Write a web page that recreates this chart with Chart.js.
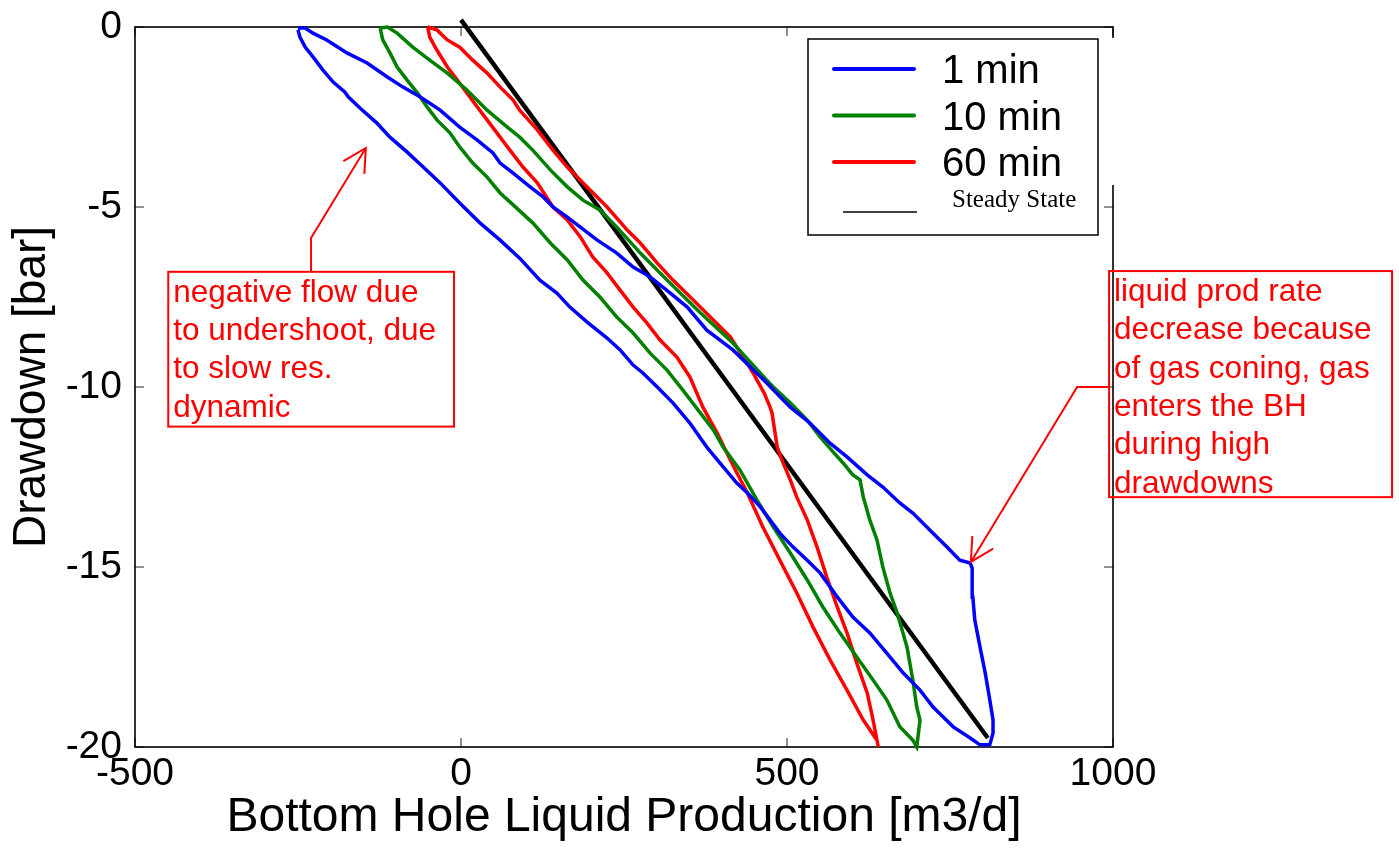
<!DOCTYPE html>
<html><head><meta charset="utf-8">
<script src="https://cdn.jsdelivr.net/npm/chart.js@4/dist/chart.umd.min.js"></script>
<style>html,body{margin:0;padding:0;background:#fff;overflow:hidden}</style>
</head><body>
<canvas id="c" width="1399" height="849"></canvas>
<script>
// ---- data: [bottom hole liquid production (m3/d), drawdown (bar)] ----
const seriesLabels = ['1 min', '10 min', '60 min', 'Steady State'];
const xTickValues = [-500, 0, 500, 1000];
const yTickValues = [-20, -15, -10, -5, 0];

const run1min = [
 [-250,-0.08],[-247,-0.28],[-239,-0.56],[-227,-0.83],[-212,-1.19],[-196,-1.53],[-178,-1.81],[-173,-1.94],
 [-155,-2.25],[-129,-2.67],[-109,-3.06],[-83,-3.47],[-58,-3.89],[-32,-4.33],[-2,-4.89],[29,-5.44],[60,-5.92],
 [90,-6.42],[121,-7.03],[147,-7.39],[167,-7.78],[193,-8.19],[224,-8.64],[244,-8.97],[264,-9.39],[279,-9.61],
 [301,-10.0],[325,-10.44],[351,-11.0],[377,-11.67],[397,-12.11],[423,-12.67],[439,-12.94],[459,-13.33],
 [474,-13.69],[489,-14.06],[509,-14.44],[531,-14.81],[551,-15.17],[577,-15.83],[601,-16.39],[627,-16.83],
 [653,-17.39],[678,-17.94],[704,-18.42],[724,-18.89],[755,-19.44],[781,-19.75],[796,-19.94],[811,-19.94],
 [816,-19.61],[816,-19.25],[811,-18.69],[804,-17.94],[796,-17.22],[788,-16.47],[785,-15.83],[784,-15.03],
 [781,-14.89],[765,-14.81],[745,-14.44],[724,-14.06],[693,-13.5],[673,-13.22],[647,-12.78],[623,-12.44],
 [592,-11.94],[566,-11.56],[535,-11.0],[505,-10.56],[479,-10.08],[469,-9.89],[417,-8.97],[377,-8.42],
 [347,-7.78],[321,-7.39],[290,-6.94],[264,-6.67],[239,-6.28],[209,-5.92],[183,-5.56],[163,-5.28],[141,-5.0],
 [126,-4.72],[106,-4.44],[80,-4.06],[60,-3.78],[49,-3.5],[25,-3.14],[-2,-2.78],[-32,-2.31],[-63,-1.94],
 [-89,-1.67],[-113,-1.39],[-144,-1.0],[-175,-0.72],[-206,-0.36],[-227,-0.17],[-239,-0.03],[-250,-0.03]
];
const run10min = [
 [-124,-0.03],[-120,-0.36],[-109,-0.72],[-98,-1.11],[-83,-1.47],[-67,-1.83],[-52,-2.22],[-37,-2.58],
 [-17,-2.94],[-2,-3.33],[18,-3.78],[40,-4.17],[60,-4.61],[80,-4.94],[110,-5.44],[137,-6.0],[163,-6.47],
 [187,-7.03],[213,-7.5],[239,-8.06],[264,-8.5],[290,-9.06],[316,-9.53],[340,-10.08],[367,-10.72],
 [387,-11.19],[402,-11.67],[428,-12.31],[454,-13.14],[479,-13.89],[505,-14.61],[531,-15.36],[555,-16.11],
 [581,-16.83],[607,-17.5],[632,-18.14],[653,-18.69],[673,-19.44],[693,-19.81],[699,-20.0],
 [704,-19.25],[699,-18.89],[693,-18.14],[684,-17.22],[669,-16.28],[658,-15.72],[647,-15.0],[638,-14.25],
 [627,-13.69],[617,-13.06],[612,-12.58],[601,-12.44],[586,-12.11],[571,-11.81],[551,-11.39],[531,-10.92],
 [505,-10.44],[479,-10.0],[469,-9.81],[417,-8.78],[367,-7.94],[316,-7.03],[275,-6.28],[239,-5.56],
 [213,-5.08],[187,-4.81],[163,-4.44],[137,-3.97],[110,-3.42],[90,-3.06],[71,-2.78],[40,-2.31],[9,-1.75],
 [-21,-1.28],[-48,-0.92],[-74,-0.56],[-98,-0.17],[-113,0],[-124,-0.03]
];
const run60min = [
 [-51,0],[-48,-0.28],[-37,-0.64],[-21,-1.11],[-6,-1.47],[9,-1.83],[25,-2.22],[40,-2.58],[55,-2.94],
 [75,-3.42],[95,-3.89],[117,-4.33],[141,-5.0],[163,-5.36],[183,-5.83],[202,-6.39],[224,-6.83],[244,-7.31],
 [264,-7.78],[285,-8.22],[305,-8.69],[331,-9.17],[351,-9.72],[371,-10.56],[393,-11.28],[413,-12.03],
 [439,-12.94],[463,-13.89],[489,-14.81],[515,-15.72],[540,-16.67],[566,-17.58],[592,-18.42],[617,-19.25],
 [638,-19.81],[640,-20.0],
 [632,-19.25],[623,-18.5],[607,-17.67],[592,-16.83],[577,-16.11],[561,-15.28],[546,-14.44],[531,-13.69],
 [515,-13.06],[505,-12.58],[494,-12.11],[485,-11.67],[477,-10.72],[474,-10.56],[465,-10.17],[454,-9.81],
 [448,-9.61],[433,-9.17],[413,-8.61],[387,-8.14],[356,-7.58],[325,-7.03],[301,-6.56],[275,-6.0],
 [255,-5.64],[224,-5.0],[193,-4.44],[163,-3.89],[141,-3.42],[117,-2.86],[90,-2.31],[80,-2.03],[60,-1.67],
 [40,-1.28],[18,-0.92],[-2,-0.56],[-21,-0.36],[-37,-0.08],[-51,0]
];
const steadyState = [[0,0.2],[808,-19.75]];

// ---- annotations (data coordinates) ----
const notes = [
 {lines:['negative flow due','to undershoot, due','to slow res.','dynamic'],
  box:[-449,-6.8,-10.7,-11.1], path:[[-230,-6.8],[-230,-5.86],[-146,-3.36]]},
 {lines:['liquid prod rate','decrease because','of gas coning, gas','enters the BH','during high','drawdowns'],
  box:[994,-6.78,1428,-13.06], path:[[994,-10],[945,-10],[782,-14.86]]}
];

const toPts = arr => arr.map(p => ({x:p[0], y:p[1]}));
const colors = ['#0000ff','#008000','#ff0000','#000000'];

function arrowHead(ctx, fx, fy, tx, ty, len, ang){
  const a = Math.atan2(fy-ty, fx-tx);
  ctx.beginPath();
  ctx.moveTo(tx + len*Math.cos(a+ang), ty + len*Math.sin(a+ang));
  ctx.lineTo(tx, ty);
  ctx.lineTo(tx + len*Math.cos(a-ang), ty + len*Math.sin(a-ang));
  ctx.stroke();
}

const framePlugin = {
  id:'frame',
  beforeDatasetsDraw(chart){
    const {ctx, chartArea:a, scales:{x, y}} = chart;
    ctx.save();
    ctx.strokeStyle = '#6e6e6e'; ctx.lineWidth = 1.5;
    const tl = 9;
    ctx.beginPath();
    xTickValues.forEach(v => { const p = x.getPixelForValue(v);
      ctx.moveTo(p, a.bottom); ctx.lineTo(p, a.bottom - tl);
      ctx.moveTo(p, a.top); ctx.lineTo(p, a.top + tl); });
    yTickValues.forEach(v => { const p = y.getPixelForValue(v);
      ctx.moveTo(a.left, p); ctx.lineTo(a.left + tl, p);
      ctx.moveTo(a.right, p); ctx.lineTo(a.right - tl, p); });
    ctx.stroke();
    ctx.strokeStyle = '#000'; ctx.lineWidth = 1.6;
    ctx.strokeRect(a.left, a.top, a.right - a.left, a.bottom - a.top);
    ctx.restore();
  },
  afterDraw(chart){
    const {ctx, chartArea:a, scales:{x, y}} = chart;
    ctx.save();
    // annotations
    ctx.strokeStyle = '#ff0000'; ctx.fillStyle = '#ff0000'; ctx.lineWidth = 2;
    ctx.font = '31.5px "Liberation Sans", Arial, sans-serif';
    ctx.textBaseline = 'alphabetic'; ctx.textAlign = 'left';
    notes.forEach(n => {
      const x0 = x.getPixelForValue(n.box[0]), y0 = y.getPixelForValue(n.box[1]);
      const x1 = x.getPixelForValue(n.box[2]), y1 = y.getPixelForValue(n.box[3]);
      ctx.strokeRect(x0, y0, x1 - x0, y1 - y0);
      n.lines.forEach((t, i) => ctx.fillText(t, x0 + 5, y0 + 30 + i * 38.3));
      const pts = n.path.map(p => [x.getPixelForValue(p[0]), y.getPixelForValue(p[1])]);
      ctx.beginPath(); ctx.moveTo(pts[0][0], pts[0][1]);
      pts.slice(1).forEach(p => ctx.lineTo(p[0], p[1])); ctx.stroke();
      const k = pts.length - 1;
      arrowHead(ctx, pts[k-1][0], pts[k-1][1], pts[k][0], pts[k][1], 26, 0.49);
    });
    // legend
    const lx = a.right - 305, ly = a.top + 12, lw = 290, lh = 196;
    ctx.fillStyle = '#fff';
    ctx.fillRect(lx + lw, ly - 1, 19, 147);
    ctx.fillRect(lx, ly, lw, lh);
    ctx.strokeStyle = '#000'; ctx.lineWidth = 1.5;
    ctx.strokeRect(lx, ly, lw, lh);
    ctx.lineCap = 'round';
    chart.data.datasets.forEach((ds, i) => {
      if (i < 3) {
        const yy = ly + 30 + i * 46.5;
        ctx.strokeStyle = ds.borderColor; ctx.lineWidth = 4;
        ctx.beginPath(); ctx.moveTo(lx + 26, yy); ctx.lineTo(lx + 106, yy); ctx.stroke();
        ctx.fillStyle = '#000'; ctx.font = '40px "Liberation Sans", Arial, sans-serif';
        ctx.fillText(ds.label, lx + 134, yy + 14);
      } else {
        const yy = ly + 173;
        ctx.strokeStyle = '#000'; ctx.lineWidth = 1.6; ctx.lineCap = 'butt';
        ctx.beginPath(); ctx.moveTo(lx + 35, yy); ctx.lineTo(lx + 109, yy); ctx.stroke();
        ctx.fillStyle = '#000'; ctx.font = '25px "Liberation Serif", "Times New Roman", serif';
        ctx.fillText(ds.label, lx + 144, yy - 5);
      }
    });
    ctx.restore();
  }
};

const mk = (data, i, w) => ({label: seriesLabels[i], data: toPts(data), showLine: true,
  borderColor: colors[i], backgroundColor: colors[i], borderWidth: w, pointRadius: 0,
  tension: 0, fill: false, clip: i === 3 ? false : 4});

new Chart(document.getElementById('c'), {
  type: 'scatter',
  data: { datasets: [mk(run1min,0,3.5), mk(run10min,1,3.5), mk(run60min,2,3.5), mk(steadyState,3,4.5)] },
  options: {
    responsive: false, animation: false, devicePixelRatio: 1,
    layout: { padding: { top: 27, right: 286, left: 0, bottom: 0 }, autoPadding: false },
    plugins: { legend: { display: false }, tooltip: { enabled: false } },
    scales: {
      x: { type: 'linear', min: -500, max: 1000,
        afterBuildTicks: s => { s.ticks = xTickValues.map(v => ({value: v})); },
        afterFit: s => { s.height = 102; s.paddingLeft = 0; s.paddingRight = 0; },
        grid: { display: false, drawTicks: false }, border: { display: false },
        ticks: { color: '#000', padding: 4, maxRotation: 0, autoSkip: false,
          callback: v => String(v),
          font: { family: '"Liberation Sans", Arial, sans-serif', size: 39 } },
        title: { display: true, text: 'Bottom Hole Liquid Production [m3/d]', color: '#000',
          padding: { top: 0, bottom: 2 },
          font: { family: '"Liberation Sans", Arial, sans-serif', size: 48 } } },
      y: { type: 'linear', min: -20, max: 0,
        afterBuildTicks: s => { s.ticks = yTickValues.map(v => ({value: v})); },
        afterFit: s => { s.width = 135; s.paddingTop = 0; s.paddingBottom = 0; },
        grid: { display: false, drawTicks: false }, border: { display: false },
        ticks: { color: '#000', padding: 13, autoSkip: false,
          callback: v => String(v),
          font: { family: '"Liberation Sans", Arial, sans-serif', size: 39 } },
        title: { display: true, text: 'Drawdown [bar]', color: '#000',
          padding: { top: 5, bottom: 0 },
          font: { family: '"Liberation Sans", Arial, sans-serif', size: 46 } } }
    }
  },
  plugins: [framePlugin]
});
</script>
</body></html>
